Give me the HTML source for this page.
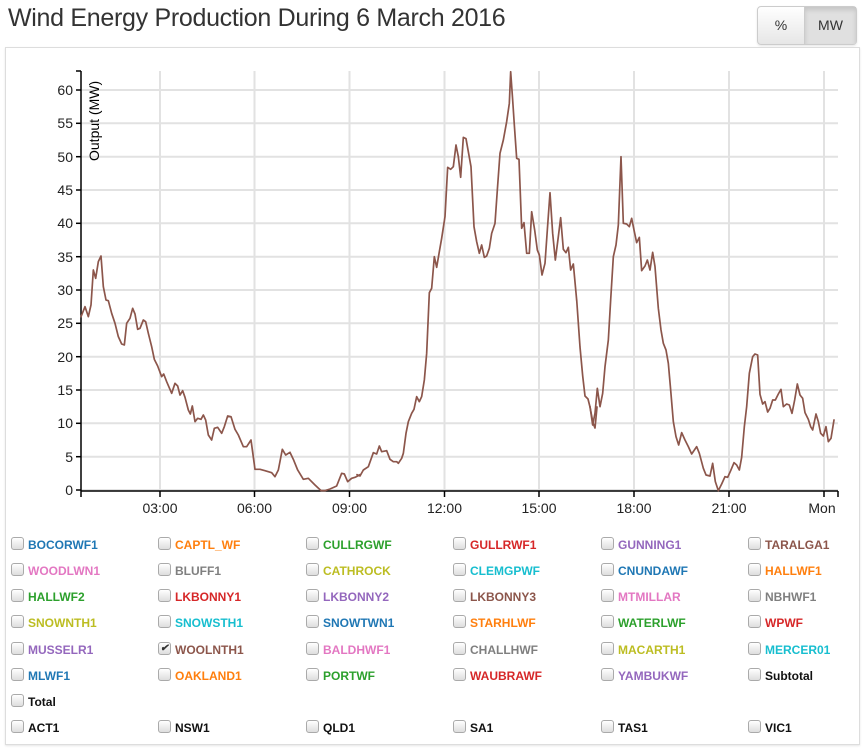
<!DOCTYPE html>
<html><head><meta charset="utf-8"><style>
body{margin:0;width:863px;height:750px;background:#fff;font-family:"Liberation Sans",sans-serif;position:relative;overflow:hidden}
.t{position:absolute;left:8px;top:4px;font-size:25px;color:#333;letter-spacing:-0.3px}
.bg{position:absolute;left:757px;top:6px;width:98px;height:37px;border:1px solid #ccc;border-radius:4px;background:linear-gradient(#fff,#e6e6e6);box-shadow:0 1px 2px rgba(0,0,0,.1)}
.bg .a{position:absolute;left:0;top:0;width:46px;height:37px;line-height:37px;text-align:center;font-size:14px;color:#333;border-right:1px solid #ccc}
.bg .b{position:absolute;left:47px;top:0;width:51px;height:37px;line-height:37px;text-align:center;font-size:14px;color:#333;background:#e0e0e0;box-shadow:inset 0 3px 5px rgba(0,0,0,.12)}
.p{position:absolute;left:5px;top:47px;width:853px;height:696px;border:1px solid #ddd;box-shadow:0 1px 2px rgba(0,0,0,.1)}
.l{position:absolute;font-size:12px;font-weight:bold;white-space:nowrap}
.l i{position:absolute;left:-17px;top:-1px;width:11px;height:11px;border:1px solid #aaa;border-radius:3px;background:linear-gradient(#fff,#ddd)}
</style></head><body>
<div class="t">Wind Energy Production During 6 March 2016</div>
<div class="bg"><div class="a">%</div><div class="b">MW</div></div>
<div class="p"></div>
<svg style="position:absolute;left:0;top:0" width="863" height="750" font-family="Liberation Sans, sans-serif">
<g stroke="#e2e2e2" stroke-width="2">
<line x1="81" x2="838" y1="490" y2="490"/><line x1="81" x2="838" y1="456.7" y2="456.7"/><line x1="81" x2="838" y1="423.3" y2="423.3"/><line x1="81" x2="838" y1="390" y2="390"/><line x1="81" x2="838" y1="356.7" y2="356.7"/><line x1="81" x2="838" y1="323.3" y2="323.3"/><line x1="81" x2="838" y1="290" y2="290"/><line x1="81" x2="838" y1="256.7" y2="256.7"/><line x1="81" x2="838" y1="223.3" y2="223.3"/><line x1="81" x2="838" y1="190" y2="190"/><line x1="81" x2="838" y1="156.7" y2="156.7"/><line x1="81" x2="838" y1="123.3" y2="123.3"/><line x1="81" x2="838" y1="90" y2="90"/>
<line x1="160" x2="160" y1="71" y2="490"/><line x1="254.5" x2="254.5" y1="71" y2="490"/><line x1="349.5" x2="349.5" y1="71" y2="490"/><line x1="444.5" x2="444.5" y1="71" y2="490"/><line x1="539" x2="539" y1="71" y2="490"/><line x1="634" x2="634" y1="71" y2="490"/><line x1="729" x2="729" y1="71" y2="490"/><line x1="824" x2="824" y1="71" y2="490"/>
</g>
<g stroke="#000" stroke-width="1.5" fill="none">
<line x1="81" x2="81" y1="71" y2="491"/><line x1="81" x2="838" y1="491" y2="491"/>
<line x1="76" x2="81" y1="71" y2="71"/><line x1="838" x2="838" y1="491" y2="497"/><line x1="81" x2="81" y1="491" y2="497"/>
<g><line x1="76" x2="81" y1="490" y2="490"/><line x1="76" x2="81" y1="456.7" y2="456.7"/><line x1="76" x2="81" y1="423.3" y2="423.3"/><line x1="76" x2="81" y1="390" y2="390"/><line x1="76" x2="81" y1="356.7" y2="356.7"/><line x1="76" x2="81" y1="323.3" y2="323.3"/><line x1="76" x2="81" y1="290" y2="290"/><line x1="76" x2="81" y1="256.7" y2="256.7"/><line x1="76" x2="81" y1="223.3" y2="223.3"/><line x1="76" x2="81" y1="190" y2="190"/><line x1="76" x2="81" y1="156.7" y2="156.7"/><line x1="76" x2="81" y1="123.3" y2="123.3"/><line x1="76" x2="81" y1="90" y2="90"/></g>
<line x1="160" x2="160" y1="491" y2="497"/><line x1="254.5" x2="254.5" y1="491" y2="497"/><line x1="349.5" x2="349.5" y1="491" y2="497"/><line x1="444.5" x2="444.5" y1="491" y2="497"/><line x1="539" x2="539" y1="491" y2="497"/><line x1="634" x2="634" y1="491" y2="497"/><line x1="729" x2="729" y1="491" y2="497"/><line x1="824" x2="824" y1="491" y2="497"/>
</g>
<g font-size="14" fill="#222" text-anchor="end">
<text x="73" y="495">0</text><text x="73" y="462">5</text><text x="73" y="428">10</text><text x="73" y="395">15</text><text x="73" y="362">20</text><text x="73" y="328">25</text><text x="73" y="295">30</text><text x="73" y="262">35</text><text x="73" y="228">40</text><text x="73" y="195">45</text><text x="73" y="162">50</text><text x="73" y="128">55</text><text x="73" y="95">60</text>
</g>
<g font-size="14" fill="#222" text-anchor="middle">
<text x="160" y="513">03:00</text><text x="254.5" y="513">06:00</text><text x="349.5" y="513">09:00</text><text x="444.5" y="513">12:00</text><text x="539" y="513">15:00</text><text x="634" y="513">18:00</text><text x="729" y="513">21:00</text><text x="822" y="513">Mon</text>
</g>
<text transform="translate(99,161) rotate(-90)" font-size="14" fill="#000">Output (MW)</text>
<g fill="none" stroke="#8c564b" stroke-width="5.1" stroke-linejoin="round" stroke-linecap="round">
<polyline transform="translate(75,60) scale(0.33333)" points="18,770 30,740 40,770 48,735 55,630 62,655 70,605 78,588 85,680 93,720 100,722 110,760 120,790 130,830 140,852 148,855 155,790 165,775 173,745 180,762 188,808 195,805 205,780 212,785 220,820 230,860 238,898 248,918 260,950 266,942 275,965 290,1000 300,970 308,978 315,1005 323,992 330,1012 340,1050 346,1062 352,1038 360,1085 368,1075 378,1078 385,1065 392,1080 400,1125 410,1140 418,1105 428,1102 440,1120 448,1100 458,1068 468,1070 480,1108 490,1125 505,1160 515,1160 528,1140 540,1228 555,1228 570,1232 590,1238 600,1250 610,1230 622,1168 632,1185 645,1177 655,1198 668,1230 685,1258 700,1255 720,1275 738,1292 750,1292 765,1287 785,1278 800,1240 808,1242 818,1265 830,1255 840,1252 848,1248 855,1244"/>
<polyline transform="translate(360,60) scale(0.33333)" points="-9,1244 0,1248 10,1230 25,1220 40,1178 50,1182 58,1158 65,1175 80,1172 90,1198 100,1205 110,1205 115,1210 125,1195 130,1180 138,1120 145,1085 155,1060 162,1048 170,1010 178,1025 185,1010 193,960 200,880 208,698 215,685 223,590 230,622 238,575 245,535 255,470 263,322 272,328 280,320 288,255 295,290 302,352 310,232 318,236 333,320 342,500 350,545 358,580 365,555 373,592 380,588 388,565 395,520 405,490 412,390 420,280 430,240 440,185 448,130 452,35 458,120 463,195 470,295 477,298 485,505 492,488 500,580 508,580 515,455 524,510 532,570 538,585 546,645 555,610 562,510 570,398 578,520 586,600 595,530 602,473 610,568 618,578 625,562 632,630 640,612 650,720"/>
<polyline stroke-width="1.7" points="576.7,300 580,347 582.7,376 585,396 588,399 590,407 593,423 595,428 597,407"/>
<polyline transform="translate(590,60) scale(0.33333)" points="0,1040 8,1095 15,1060 22,985 30,1040 38,1000 45,920 55,840 62,720 70,590 78,555 85,495 93,290 100,490 110,492 118,500 125,475 132,510 140,548 148,532 155,632 165,618 172,600 180,630 188,577 195,620 205,745 213,810 220,850 228,870 235,910 242,990 250,1085 258,1130 266,1155 275,1118 285,1140 295,1160 305,1182 320,1160 328,1180 340,1225 348,1245 360,1248 368,1210 376,1265 385,1292 395,1272 405,1250 413,1252 422,1232 432,1208 440,1215 448,1230 455,1192 463,1100 470,1040 478,940 488,890 495,882 503,885 510,1003 518,1032 525,1025 533,1056 540,1045 548,1020 556,1020 565,1002 573,988 580,1040 590,1032 598,1035 606,1060 614,1020 622,972 630,1005 638,1015 645,1058 655,1078 662,1100 668,1110 678,1062 685,1085 692,1120 700,1128 708,1100 715,1145 723,1135 732,1080"/>
</g>
</svg>
<div class="l" style="left:28px;top:538px;color:#1f77b4"><i></i>BOCORWF1</div>
<div class="l" style="left:175px;top:538px;color:#ff7f0e"><i></i>CAPTL_WF</div>
<div class="l" style="left:323px;top:538px;color:#2ca02c"><i></i>CULLRGWF</div>
<div class="l" style="left:470px;top:538px;color:#d62728"><i></i>GULLRWF1</div>
<div class="l" style="left:618px;top:538px;color:#9467bd"><i></i>GUNNING1</div>
<div class="l" style="left:765px;top:538px;color:#8c564b"><i></i>TARALGA1</div>
<div class="l" style="left:28px;top:564px;color:#e377c2"><i></i>WOODLWN1</div>
<div class="l" style="left:175px;top:564px;color:#7f7f7f"><i></i>BLUFF1</div>
<div class="l" style="left:323px;top:564px;color:#bcbd22"><i></i>CATHROCK</div>
<div class="l" style="left:470px;top:564px;color:#17becf"><i></i>CLEMGPWF</div>
<div class="l" style="left:618px;top:564px;color:#1f77b4"><i></i>CNUNDAWF</div>
<div class="l" style="left:765px;top:564px;color:#ff7f0e"><i></i>HALLWF1</div>
<div class="l" style="left:28px;top:590px;color:#2ca02c"><i></i>HALLWF2</div>
<div class="l" style="left:175px;top:590px;color:#d62728"><i></i>LKBONNY1</div>
<div class="l" style="left:323px;top:590px;color:#9467bd"><i></i>LKBONNY2</div>
<div class="l" style="left:470px;top:590px;color:#8c564b"><i></i>LKBONNY3</div>
<div class="l" style="left:618px;top:590px;color:#e377c2"><i></i>MTMILLAR</div>
<div class="l" style="left:765px;top:590px;color:#7f7f7f"><i></i>NBHWF1</div>
<div class="l" style="left:28px;top:616px;color:#bcbd22"><i></i>SNOWNTH1</div>
<div class="l" style="left:175px;top:616px;color:#17becf"><i></i>SNOWSTH1</div>
<div class="l" style="left:323px;top:616px;color:#1f77b4"><i></i>SNOWTWN1</div>
<div class="l" style="left:470px;top:616px;color:#ff7f0e"><i></i>STARHLWF</div>
<div class="l" style="left:618px;top:616px;color:#2ca02c"><i></i>WATERLWF</div>
<div class="l" style="left:765px;top:616px;color:#d62728"><i></i>WPWF</div>
<div class="l" style="left:28px;top:643px;color:#9467bd"><i></i>MUSSELR1</div>
<div class="l" style="left:175px;top:643px;color:#8c564b"><i style="text-align:center;line-height:11px;font-size:10px;color:#333">✔</i>WOOLNTH1</div>
<div class="l" style="left:323px;top:643px;color:#e377c2"><i></i>BALDHWF1</div>
<div class="l" style="left:470px;top:643px;color:#7f7f7f"><i></i>CHALLHWF</div>
<div class="l" style="left:618px;top:643px;color:#bcbd22"><i></i>MACARTH1</div>
<div class="l" style="left:765px;top:643px;color:#17becf"><i></i>MERCER01</div>
<div class="l" style="left:28px;top:669px;color:#1f77b4"><i></i>MLWF1</div>
<div class="l" style="left:175px;top:669px;color:#ff7f0e"><i></i>OAKLAND1</div>
<div class="l" style="left:323px;top:669px;color:#2ca02c"><i></i>PORTWF</div>
<div class="l" style="left:470px;top:669px;color:#d62728"><i></i>WAUBRAWF</div>
<div class="l" style="left:618px;top:669px;color:#9467bd"><i></i>YAMBUKWF</div>
<div class="l" style="left:765px;top:669px;color:#111"><i></i>Subtotal</div>
<div class="l" style="left:28px;top:695px;color:#111"><i></i>Total</div>
<div class="l" style="left:28px;top:721px;color:#111"><i></i>ACT1</div>
<div class="l" style="left:175px;top:721px;color:#111"><i></i>NSW1</div>
<div class="l" style="left:323px;top:721px;color:#111"><i></i>QLD1</div>
<div class="l" style="left:470px;top:721px;color:#111"><i></i>SA1</div>
<div class="l" style="left:618px;top:721px;color:#111"><i></i>TAS1</div>
<div class="l" style="left:765px;top:721px;color:#111"><i></i>VIC1</div>
</body></html>
